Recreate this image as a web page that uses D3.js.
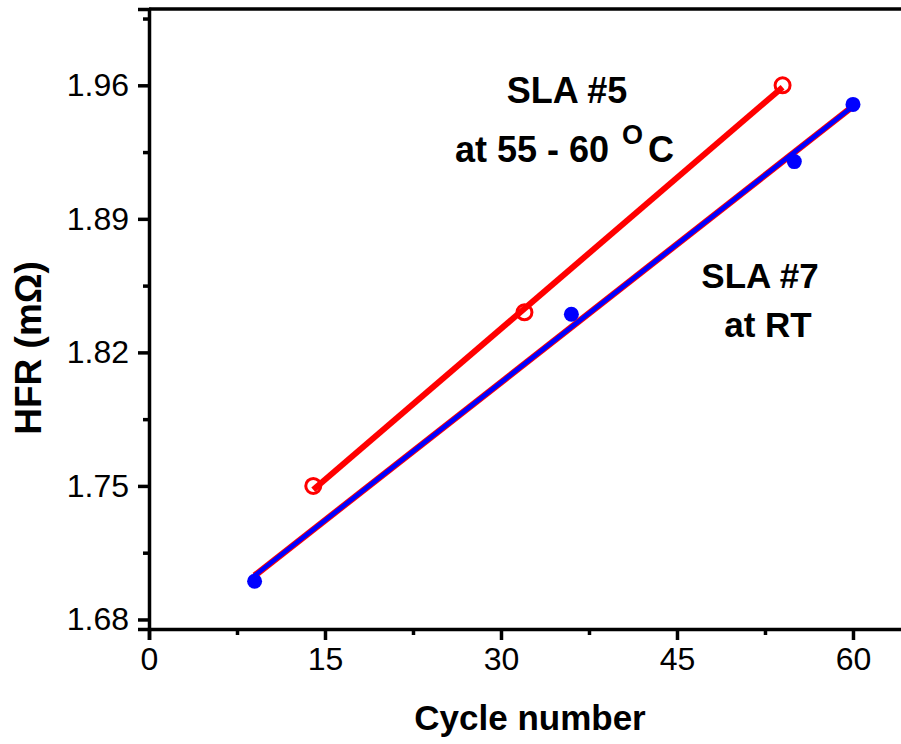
<!DOCTYPE html>
<html>
<head>
<meta charset="utf-8">
<script src="https://cdn.jsdelivr.net/npm/d3@7"></script>
<style>
  html, body { margin: 0; padding: 0; background: #fff; }
  svg { display: block; font-family: "Liberation Sans", Arial, sans-serif; }
</style>
</head>
<body>
<svg id="chart" width="901" height="744"></svg>
<script>
// ---- data ----
const sla5Cycles = [14, 32, 54];
const sla5HFR = [1.750, 1.841, 1.960];
const sla7Cycles = [9, 36, 55, 60];
const sla7HFR = [1.700, 1.840, 1.920, 1.950];
const sla5FitCycles = [14, 54];
const sla5FitHFR = [1.748, 1.959];
const sla7FitCycles = [9, 60];
const sla7FitHFR = [1.703, 1.949];
const xTickValues = [0, 15, 30, 45, 60];
const xMinorTicks = [7.5, 22.5, 37.5, 52.5];
const yTickValues = [1.68, 1.75, 1.82, 1.89, 1.96];
const yMinorTicks = [1.715, 1.785, 1.855, 1.925, 1.995];

const svg = d3.select("#chart");
const plotLeft = 149, plotTop = 9, plotBottom = 629;
const x = d3.scaleLinear().domain([0, 65]).range([plotLeft, plotLeft + 65 * 11.733]);
const y = d3.scaleLinear().domain([1.675, 2.0]).range([plotBottom, plotTop]);

// frame (top & right)
svg.append("path")
  .attr("d", `M${plotLeft},${plotTop}H${x(65)}V${plotBottom}`)
  .attr("fill", "none").attr("stroke", "#000").attr("stroke-width", 3.5);

// X axis
const gx = svg.append("g").attr("transform", `translate(0,${plotBottom})`);
gx.call(d3.axisBottom(x).tickValues(xTickValues).tickSize(11).tickPadding(7).tickFormat(d3.format("d")));
gx.select(".domain").attr("stroke-width", 3.5);
gx.selectAll(".tick line").attr("stroke-width", 3.5);
gx.selectAll(".tick text").attr("font-size", 32).attr("fill", "#000").attr("font-family", "Liberation Sans, Arial, sans-serif");
const gxm = svg.append("g").attr("transform", `translate(0,${plotBottom})`);
gxm.call(d3.axisBottom(x).tickValues(xMinorTicks).tickSize(6).tickFormat(""));
gxm.select(".domain").remove();
gxm.selectAll(".tick line").attr("stroke-width", 3.5);

// Y axis
const gy = svg.append("g").attr("transform", `translate(${plotLeft},0)`);
gy.call(d3.axisLeft(y).tickValues(yTickValues).tickSize(11).tickPadding(9).tickFormat(d3.format(".2f")));
gy.select(".domain").attr("stroke-width", 3.5);
gy.selectAll(".tick line").attr("stroke-width", 3.5);
gy.selectAll(".tick text").attr("font-size", 32).attr("fill", "#000").attr("font-family", "Liberation Sans, Arial, sans-serif");
const gym = svg.append("g").attr("transform", `translate(${plotLeft},0)`);
gym.call(d3.axisLeft(y).tickValues(yMinorTicks).tickSize(6).tickFormat(""));
gym.select(".domain").remove();
gym.selectAll(".tick line").attr("stroke-width", 3.5);

// axis titles
svg.append("text")
  .attr("x", 530).attr("y", 730)
  .attr("text-anchor", "middle")
  .attr("font-size", 35).attr("font-weight", "bold")
  .text("Cycle number");
svg.append("text")
  .attr("transform", "translate(41,348) rotate(-90)")
  .attr("text-anchor", "middle")
  .attr("font-size", 37).attr("font-weight", "bold")
  .text("HFR (mΩ)");

const line = d3.line().x(d => x(d[0])).y(d => y(d[1]));

// fit lines
const fit5 = sla5FitCycles.map((c, i) => [c, sla5FitHFR[i]]);
const fit7 = sla7FitCycles.map((c, i) => [c, sla7FitHFR[i]]);
svg.append("path").datum(fit7).attr("d", line)
  .attr("fill", "none").attr("stroke", "#ff0000").attr("stroke-width", 6.5);
svg.append("path").datum(fit7).attr("d", line)
  .attr("fill", "none").attr("stroke", "#0000ff").attr("stroke-width", 4.5);
svg.append("path").datum(fit5).attr("d", line)
  .attr("fill", "none").attr("stroke", "#ff0000").attr("stroke-width", 6);

// points
svg.append("g").selectAll("circle")
  .data(sla7Cycles.map((c, i) => [c, sla7HFR[i]]))
  .join("circle")
  .attr("cx", d => x(d[0])).attr("cy", d => y(d[1])).attr("r", 7.5)
  .attr("fill", "#0000ff");
svg.append("g").selectAll("circle")
  .data(sla5Cycles.map((c, i) => [c, sla5HFR[i]]))
  .join("circle")
  .attr("cx", d => x(d[0])).attr("cy", d => y(d[1])).attr("r", 7.5)
  .attr("fill", "none").attr("stroke", "#ff0000").attr("stroke-width", 3);

// annotations
svg.append("text").attr("x", 567).attr("y", 103).attr("text-anchor", "middle")
  .attr("font-size", 36).attr("font-weight", "bold").text("SLA #5");
const t2 = svg.append("text").attr("x", 455).attr("y", 162)
  .attr("font-size", 36).attr("font-weight", "bold");
t2.append("tspan").text("at 55 - 60 ");
t2.append("tspan").attr("font-size", 27).attr("dx", 3).attr("dy", -18).text("O");
t2.append("tspan").attr("font-size", 36).attr("dx", 5).attr("dy", 18).text("C");
svg.append("text").attr("x", 760).attr("y", 288).attr("text-anchor", "middle")
  .attr("font-size", 35).attr("font-weight", "bold").text("SLA #7");
svg.append("text").attr("x", 768).attr("y", 337).attr("text-anchor", "middle")
  .attr("font-size", 35).attr("font-weight", "bold").text("at RT");
</script>
</body>
</html>
